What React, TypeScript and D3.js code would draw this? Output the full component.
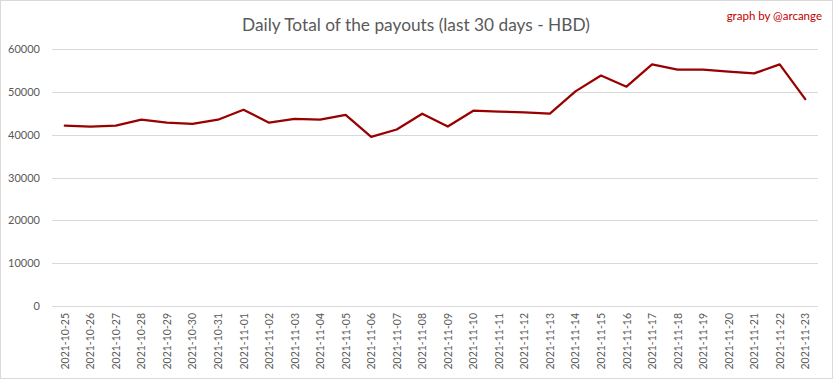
import React from "react";
import * as d3 from "d3";

const dates = [
  "2021-10-25","2021-10-26","2021-10-27","2021-10-28","2021-10-29","2021-10-30","2021-10-31",
  "2021-11-01","2021-11-02","2021-11-03","2021-11-04","2021-11-05","2021-11-06","2021-11-07",
  "2021-11-08","2021-11-09","2021-11-10","2021-11-11","2021-11-12","2021-11-13","2021-11-14",
  "2021-11-15","2021-11-16","2021-11-17","2021-11-18","2021-11-19","2021-11-20","2021-11-21",
  "2021-11-22","2021-11-23",
];
const payouts = [
  42100, 41900, 42100, 43500, 42800, 42500, 43500,
  45800, 42800, 43700, 43500, 44600, 39500, 41200,
  44900, 41900, 45600, 45400, 45200, 44900, 50100,
  53800, 51200, 56400, 55200, 55200, 54700, 54300,
  56400, 48300,
];
const yTicks = [0, 10000, 20000, 30000, 40000, 50000, 60000];

const W = 833, H = 379;
const plot = { left: 52, right: 818, top: 49, bottom: 306 };
const font = "Lato, 'Open Sans', sans-serif";

export default function App() {
  const x = d3.scaleBand<string>().domain(dates).range([plot.left, plot.right]);
  const y = d3.scaleLinear().domain([0, 60000]).range([plot.bottom, plot.top]);
  const line = d3.line<number>()
    .x((_, i) => (x(dates[i]) as number) + x.bandwidth() / 2)
    .y((d) => y(d));
  return (
    <svg width={W} height={H} style={{ position: "absolute", left: 0, top: 0, background: "#fff" }}>
      <rect x={0.5} y={0.5} width={W - 1} height={H - 1} fill="#fff" stroke="#d9d9d9" />
      <text x={416} y={31} textAnchor="middle" fontFamily={font} fontSize={17.3} fill="#595959">
        Daily Total of the payouts (last 30 days - HBD)
      </text>
      <text x={822} y={20} textAnchor="end" fontFamily={font} fontSize={11.5} fill="#c00000">
        graph by @arcange
      </text>
      {yTicks.map((t) => (
        <g key={t}>
          <line x1={plot.left} x2={plot.right} y1={Math.round(y(t)) + 0.5} y2={Math.round(y(t)) + 0.5} stroke="#d9d9d9" strokeWidth={1} />
          <text x={40} y={y(t) + 4} textAnchor="end" fontFamily={font} fontSize={11} fill="#595959">{t}</text>
        </g>
      ))}
      {dates.map((d) => {
        const cx = (x(d) as number) + x.bandwidth() / 2;
        return (
          <text key={d} transform={`translate(${cx + 4},${plot.bottom + 7}) rotate(-90)`} textAnchor="end"
            fontFamily={font} fontSize={10.5} fill="#595959">{d}</text>
        );
      })}
      <path d={line(payouts) ?? ""} fill="none" stroke="#990000" strokeWidth={2.25} strokeLinejoin="round" strokeLinecap="round" />
    </svg>
  );
}
